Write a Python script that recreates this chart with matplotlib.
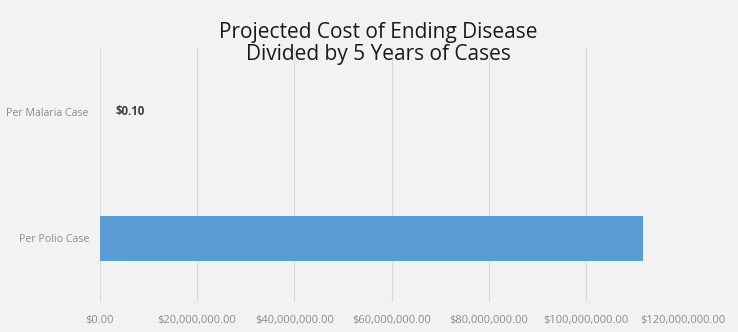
import matplotlib
matplotlib.use("Agg")
import matplotlib.pyplot as plt
from matplotlib.ticker import FuncFormatter

categories = ["Per Polio Case", "Per Malaria Case"]
costs = [111700000, 0.10]
label_texts = [None, "$0.10"]
xticks = [0, 20000000, 40000000, 60000000, 80000000, 100000000, 120000000]

bg = "#f2f2f2"
plt.rcParams["font.family"] = ["Open Sans", "DejaVu Sans"]

fig = plt.figure(figsize=(7.38, 3.32), dpi=100, facecolor=bg)
ax = fig.add_axes([100 / 738, 30 / 332, 583 / 738, 254 / 332], facecolor=bg)

ypos = list(range(len(categories)))
ax.barh(ypos, costs, height=0.36, color="#5b9bd5", zorder=3)

for y, v, t in zip(ypos, costs, label_texts):
    if t:
        ax.annotate(t, (v, y), xytext=(11, 0), textcoords="offset points",
                    va="center", ha="left", fontsize=8.3, fontweight="bold",
                    color="#404040")

ax.set_xlim(0, 120000000)
ax.set_ylim(-0.5, 1.5)
ax.set_xticks(xticks)
ax.xaxis.set_major_formatter(FuncFormatter(lambda v, p: "${:,.2f}".format(v)))
ax.set_yticks(ypos)
ax.set_yticklabels(categories)
ax.tick_params(axis="both", length=0, colors="#8c8c8c")
ax.tick_params(axis="x", pad=9, labelsize=8)
ax.tick_params(axis="y", pad=8, labelsize=7.7)
ax.grid(axis="x", color="#d9d9d9", linewidth=0.8, zorder=0)
for s in ax.spines.values():
    s.set_visible(False)

fig.text(0.513, 0.869, "Projected Cost of Ending Disease\nDivided by 5 Years of Cases",
         ha="center", va="center", fontsize=15, color="#1a1a1a",
         linespacing=1.05)

fig.savefig("out.png", dpi=100, facecolor=bg)
